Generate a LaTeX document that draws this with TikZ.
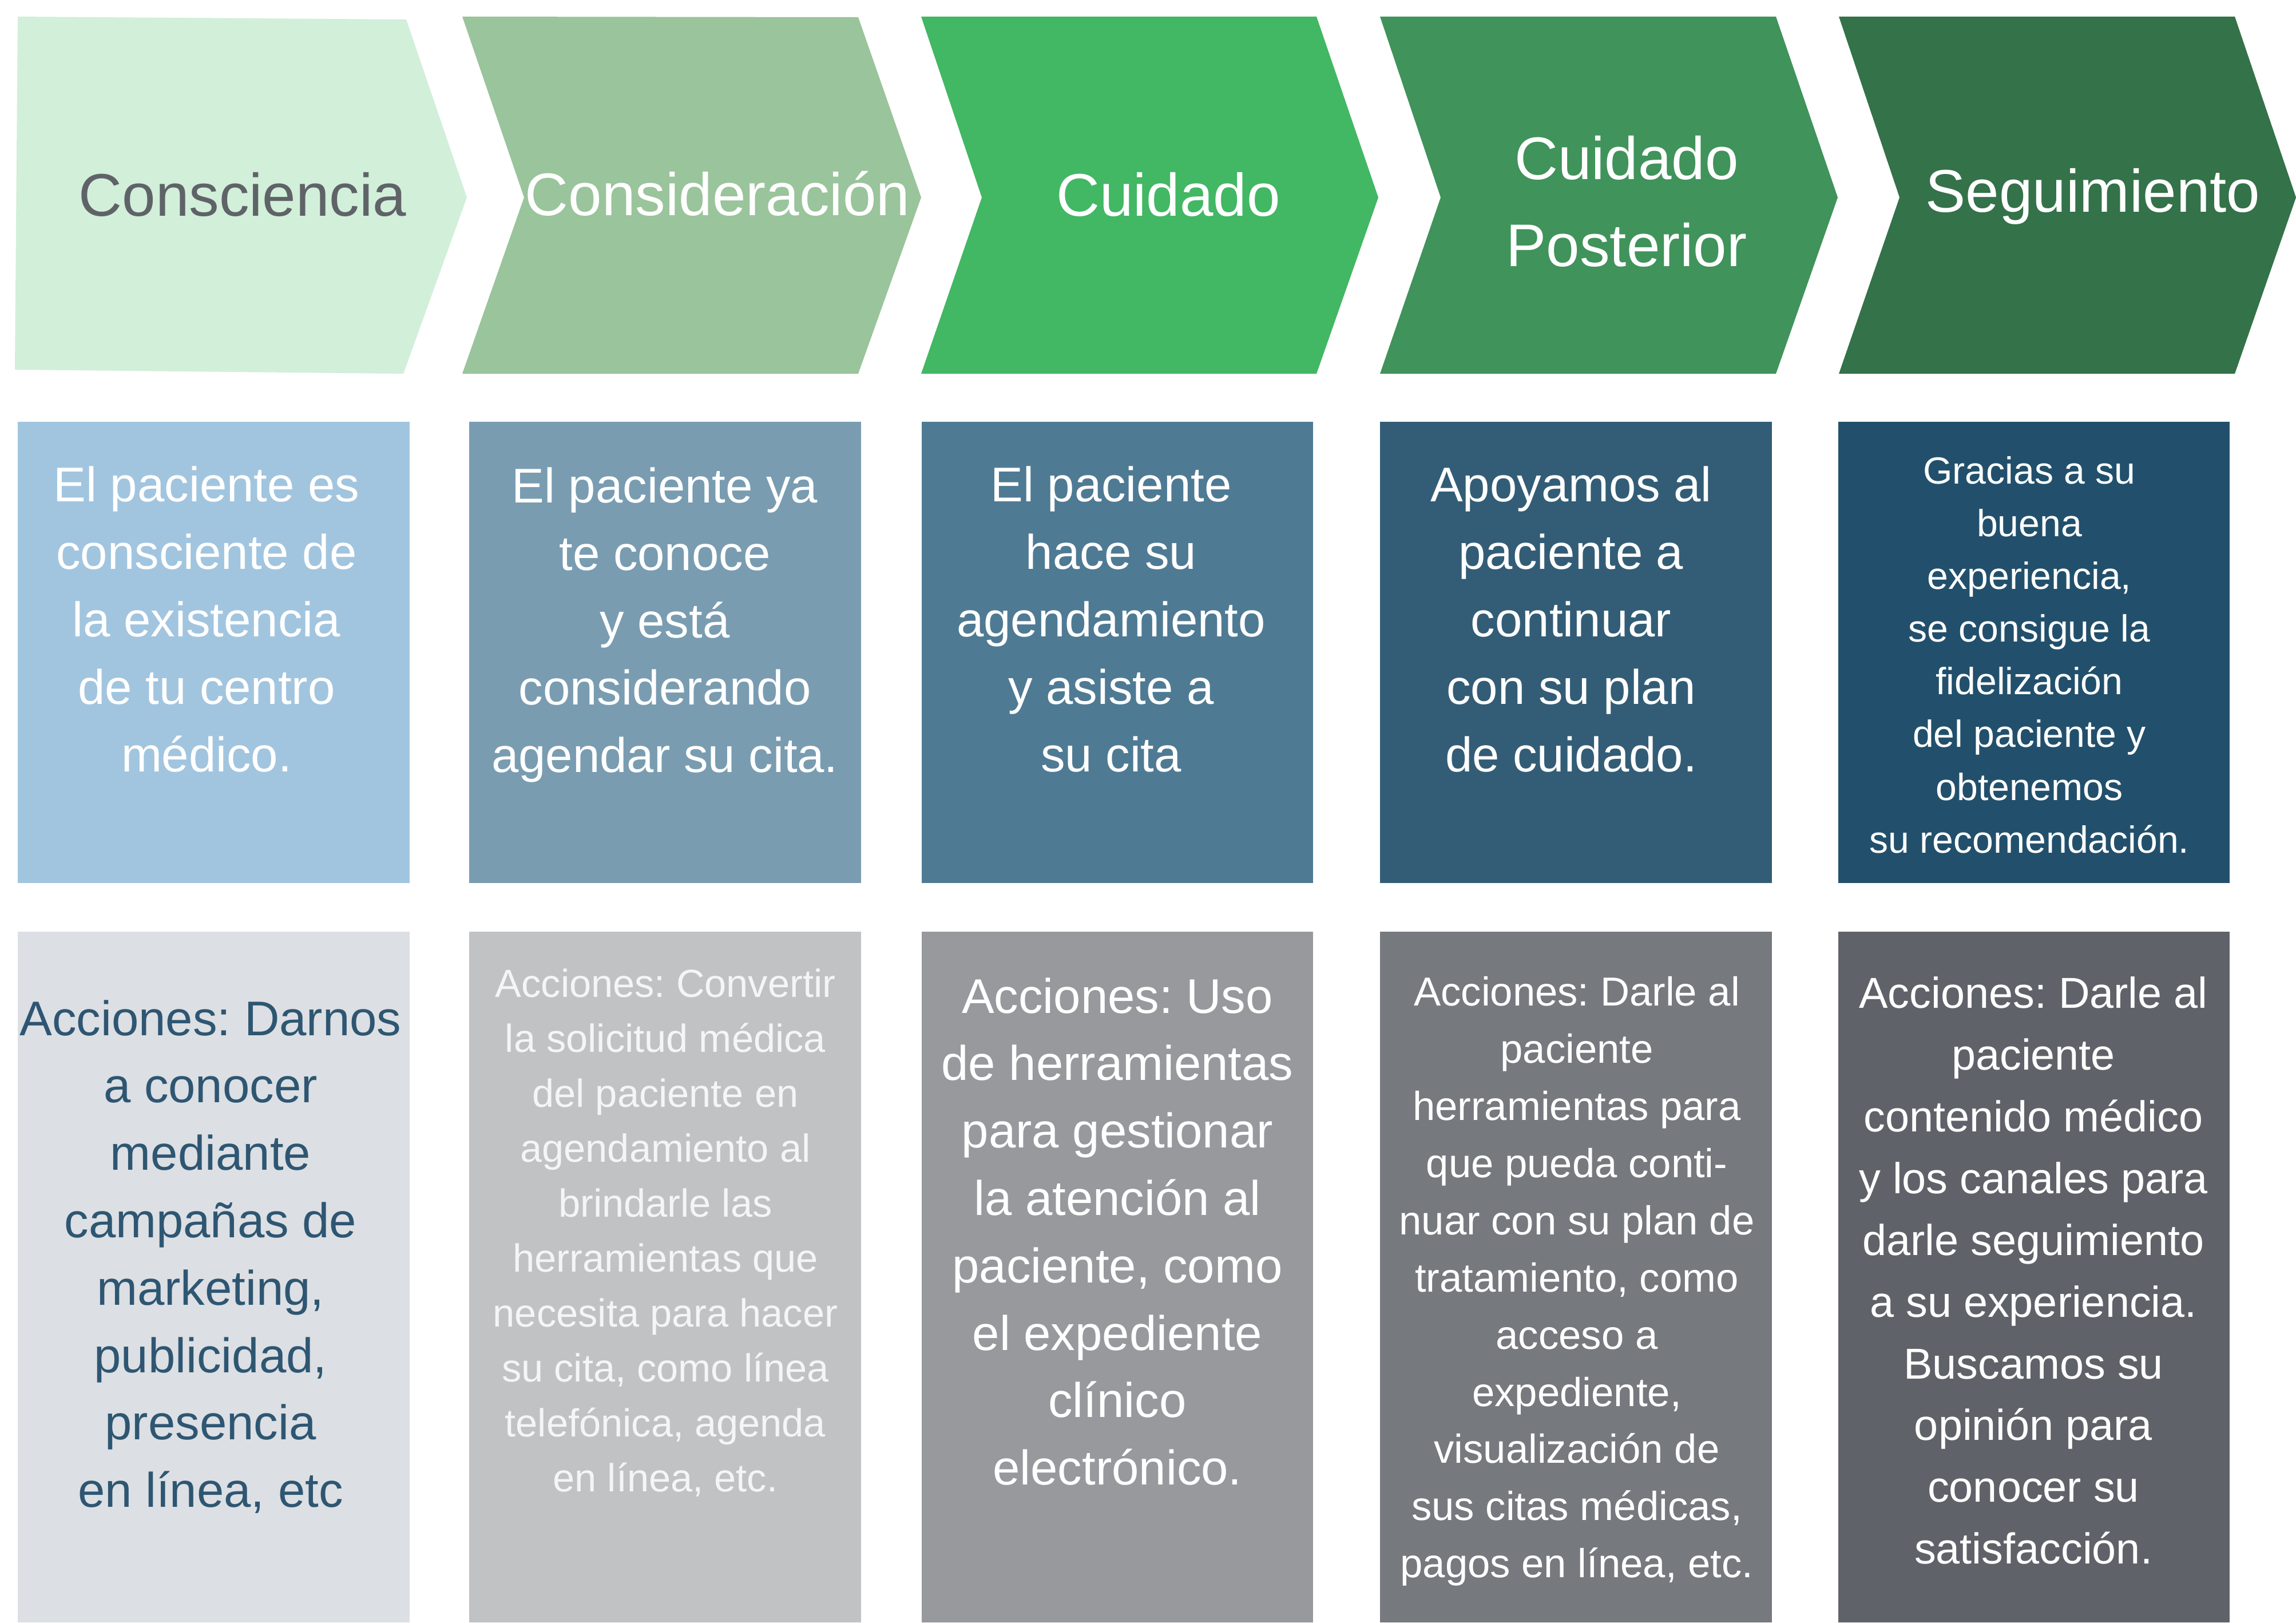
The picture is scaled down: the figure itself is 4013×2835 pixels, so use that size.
\documentclass[tikz,border=0pt]{standalone}
\usepackage{fontspec}
\setmainfont{Liberation Sans}
\frenchspacing
\definecolor{chA}{HTML}{D2EFD9}
\definecolor{chB}{HTML}{9AC49B}
\definecolor{chC}{HTML}{42B764}
\definecolor{chD}{HTML}{40935A}
\definecolor{chE}{HTML}{347249}
\definecolor{mA}{HTML}{A2C5DF}
\definecolor{mB}{HTML}{799CB1}
\definecolor{mC}{HTML}{4F7A94}
\definecolor{mD}{HTML}{335D76}
\definecolor{mE}{HTML}{22506C}
\definecolor{bA}{HTML}{DCDFE3}
\definecolor{bB}{HTML}{C1C2C4}
\definecolor{bC}{HTML}{98999D}
\definecolor{bD}{HTML}{76797E}
\definecolor{bE}{HTML}{5F6369}
\definecolor{grayTxt}{HTML}{5F6368}
\definecolor{blueTxt}{HTML}{2E5672}
\begin{document}
\begin{tikzpicture}[x=0.01cm,y=-0.01cm,
  txt/.style={align=center,inner sep=0pt,text=white},
  chfont/.style={font=\fontsize{29.9}{43}\selectfont},
  midfont/.style={font=\fontsize{24.2}{33.5}\selectfont}]
\useasboundingbox (0,0) rectangle (4013,2835);
\fill[white] (0,0) rectangle (4013,2835);
% chevrons
\fill[chA] (31,29) -- (710,34) -- (816,345) -- (705,653) -- (26,646) -- cycle;
\fill[chB] (808,29) -- (1500,30) -- (1610,345) -- (1500,653) -- (808,653) -- (916,345) -- cycle;
\fill[chC] (1610,29) -- (2301,29) -- (2409,345) -- (2301,653) -- (1610,653) -- (1716,345) -- cycle;
\fill[chD] (2412,29) -- (3104,29) -- (3212,345) -- (3104,653) -- (2412,653) -- (2518,345) -- cycle;
\fill[chE] (3214,29) -- (3906,29) -- (4013,345) -- (3906,653) -- (3214,653) -- (3320,345) -- cycle;
\node[txt,chfont,text=grayTxt] (h1) at (424,340) {Consciencia};
\node[txt,chfont] (h2) at (1254,338) {Consideración};
\node[txt,chfont] (h3) at (2042,340) {Cuidado};
\node[txt,chfont] (h4) at (2843,352) {Cuidado\\Posterior};
\node[txt,chfont] (h5) at (3658,343) {Seguimiento};
% middle boxes
\fill[mA] (31,737) rectangle (716,1543);
\fill[mB] (820,737) rectangle (1505,1543);
\fill[mC] (1611,737) rectangle (2295,1543);
\fill[mD] (2412,737) rectangle (3097,1543);
\fill[mE] (3213,737) rectangle (3897,1543);
\node[txt,midfont] (m1) at (361,1082) {El paciente es\\consciente de\\la existencia\\de tu centro\\médico.};
\node[txt,midfont] (m2) at (1162,1092) {El paciente ya\\te conoce\\y está\\considerando\\agendar su cita.};
\node[txt,midfont] (m3) at (1942,1082) {El paciente\\hace su\\agendamiento\\y asiste a\\su cita};
\node[txt,midfont] (m4) at (2746,1082) {Apoyamos al\\paciente a\\continuar\\con su plan\\de cuidado.};
\node[txt,font=\fontsize{18.8}{26.2}\selectfont] (m5) at (3547,1144) {Gracias a su\\buena\\experiencia,\\se consigue la\\fidelización\\del paciente y\\obtenemos\\su recomendación.};
% bottom boxes
\fill[bA] (31,1628) rectangle (716,2835);
\fill[bB] (820,1628) rectangle (1505,2835);
\fill[bC] (1611,1628) rectangle (2295,2835);
\fill[bD] (2412,1628) rectangle (3097,2835);
\fill[bE] (3213,1628) rectangle (3897,2835);
\node[txt,midfont,text=blueTxt] (b1) at (368,2196) {Acciones: Darnos\\a conocer\\mediante\\campañas de\\marketing,\\publicidad,\\presencia\\en línea, etc};
\node[txt,font=\fontsize{19.5}{27.3}\selectfont,text=white!96!black] (b2) at (1163,2154) {Acciones: Convertir\\la solicitud médica\\del paciente en\\agendamiento al\\brindarle las\\herramientas que\\necesita para hacer\\su cita, como línea\\telefónica, agenda\\en línea, etc.};
\node[txt,midfont] (b3) at (1953,2152) {Acciones: Uso\\de herramientas\\para gestionar\\la atención al\\paciente, como\\el expediente\\clínico\\electrónico.};
\node[txt,font=\fontsize{20.1}{28.4}\selectfont] (b4) at (2756,2239) {Acciones: Darle al\\paciente\\herramientas para\\que pueda conti-\\nuar con su plan de\\tratamiento, como\\acceso a\\expediente,\\visualización de\\sus citas médicas,\\pagos en línea, etc.};
\node[txt,font=\fontsize{21.5}{30.7}\selectfont] (b5) at (3554,2220) {Acciones: Darle al\\paciente\\contenido médico\\y los canales para\\darle seguimiento\\a su experiencia.\\Buscamos su\\opinión para\\conocer su\\satisfacción.};
\end{tikzpicture}
\end{document}
